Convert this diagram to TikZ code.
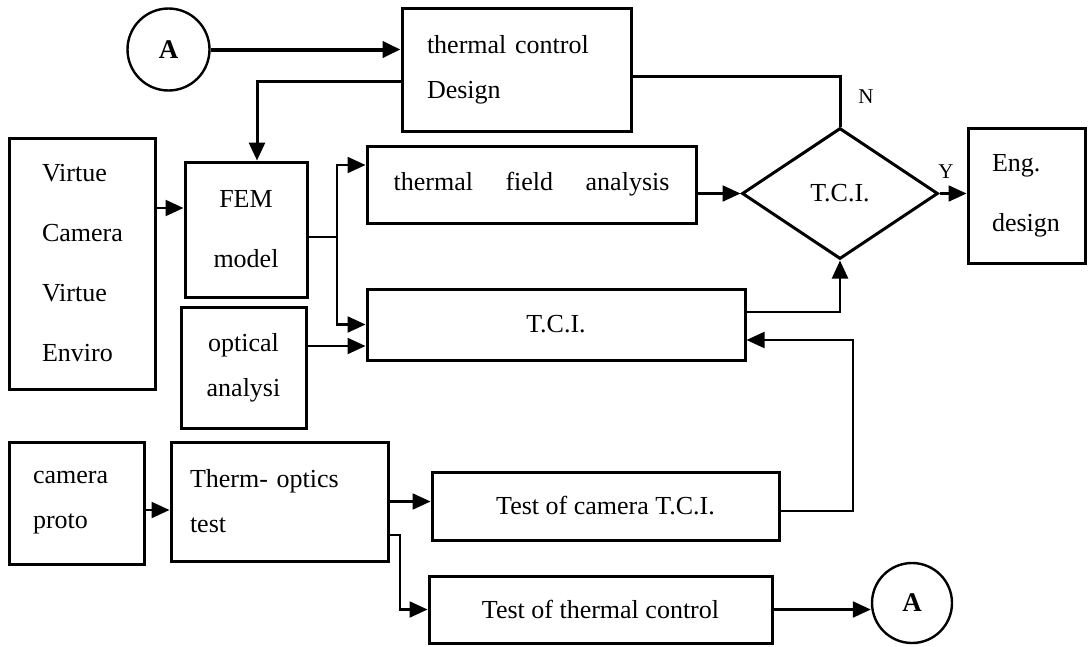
\documentclass[tikz,border=0pt]{standalone}
\usepackage{fontspec}
\setmainfont{Liberation Serif}
\usepackage{tikz}
\usetikzlibrary{arrows.meta,shapes.geometric}
\tikzset{
  blk/.style={draw,line width=3pt,inner sep=0pt,font=\fontsize{26}{45}\selectfont},
  blkwide/.style={blk,font=\fontsize{26}{60}\selectfont},
  dec/.style={diamond,draw,line width=3pt,inner sep=0pt,font=\fontsize{26}{30}\selectfont},
  conn/.style={circle,draw,line width=2.4pt,inner sep=0pt,minimum size=82pt,font=\bfseries\fontsize{27}{30}\selectfont},
  lbl/.style={inner sep=0pt,font=\fontsize{21}{24}\selectfont},
  ln/.style={line width=2.2pt},
  ar/.style={ln,-{Triangle[length=18pt,width=16pt]}},
}
\begin{document}
\begin{tikzpicture}[x=1pt,y=-1pt]
  \useasboundingbox (0,0) rectangle (1089,646);
  % top row
  \node[conn] (ina) at (168.5,49.5) {A};
  \node[blk,minimum width=229pt,minimum height=123pt,inner xsep=25pt,text width=179pt,align=left] (tcd) at (516.5,69.5) {thermal control\\Design};
  % analysis part
  \node[blkwide,minimum width=146pt,minimum height=251pt,inner xsep=33pt,text width=80pt,align=left] (virt) at (82,263.5) {Virtue\\Camera\\Virtue\\Enviro};
  \node[blkwide,minimum width=122pt,minimum height=135pt,align=center] (fem) at (246,229.5) {FEM\\model};
  \node[blk,minimum width=329pt,minimum height=77pt] (tfa) at (531.5,184.5) {thermal\hspace{1.25em}field\hspace{1.25em}analysis};
  \node[blk,minimum width=378pt,minimum height=71pt] (tci) at (556,324.5) {T.C.I.};
  \node[blk,minimum width=125pt,minimum height=121pt,align=center] (opt) at (243.5,367.5) {optical\\analysi};
  \node[dec,minimum width=196pt,minimum height=131pt] (dia) at (840,193.5) {T.C.I.};
  \node[blkwide,minimum width=117pt,minimum height=135pt,inner xsep=24pt,text width=69pt,align=left] (eng) at (1026.5,195.5) {Eng.\\design};
  \node[lbl] (nlab) at (866,97) {N};
  \node[lbl] (ylab) at (946,172) {Y};
  % test part
  \node[blk,minimum width=135pt,minimum height=122pt,inner xsep=24pt,text width=87pt,align=left] (cam) at (76.5,503) {camera\\proto};
  \node[blk,minimum width=217pt,minimum height=119pt,inner xsep=19pt,text width=179pt,align=left] (tot) at (279.5,501.5) {Therm- optics\\test};
  \node[blk,minimum width=347pt,minimum height=68pt] (tct) at (605.5,506) {Test of camera T.C.I.};
  \node[blk,minimum width=343pt,minimum height=67pt] (ttc) at (600.5,609.5) {Test of thermal control};
  \node[conn,minimum size=80pt] (outa) at (912,603) {A};
  % connectors
  \coordinate (femtop) at ([xshift=11pt]fem.north);
  \coordinate (femin) at ([yshift=21.5pt]fem.west);
  \coordinate (fork) at (337,237);
  \coordinate (tciopt) at ([yshift=-21.5pt]tci.west);
  \coordinate (tcibk) at ([yshift=-15.5pt]tci.east);
  \coordinate (rise) at (853,340);
  \coordinate (totin) at ([yshift=-8.5pt]tot.west);
  \coordinate (fork2) at (400,535);
  \draw[ar,line width=4pt] (ina) -- (ina -| tcd.west);
  \draw[ar,line width=3pt] ([yshift=-11.5pt]tcd.west) -| (femtop);
  \draw[ln,line width=3pt] ([yshift=-6.5pt]tcd.east) -| (dia.north);
  \draw[ar] (virt.east |- femin) -- (femin);
  \draw[ln] (fem.east |- fork) -- (fork);
  \draw[ar] (fork) |- ([yshift=19.5pt]tfa.west);
  \draw[ar] (fork) |- (tci.west);
  \draw[ar] (opt.east |- tciopt) -- (tciopt);
  \draw[ar] (tfa.east |- dia.west) -- (dia.west);
  \draw[ar] (dia.east) -- (dia.east -| eng.west);
  \draw[ar] ([yshift=12.5pt]tci.east) -| (dia.south);
  \draw[ar] ([yshift=-5pt]tct.east) -| (rise) -- (tcibk);
  \draw[ar] (cam.east |- totin) -- (totin);
  \draw[ar] (tot.east) -- (tot.east -| tct.west);
  \draw[ar] (tot.east |- fork2) -- (fork2) |- (ttc.west);
  \draw[ar] (ttc.east) -- (ttc.east -| outa.west);
\end{tikzpicture}
\end{document}
